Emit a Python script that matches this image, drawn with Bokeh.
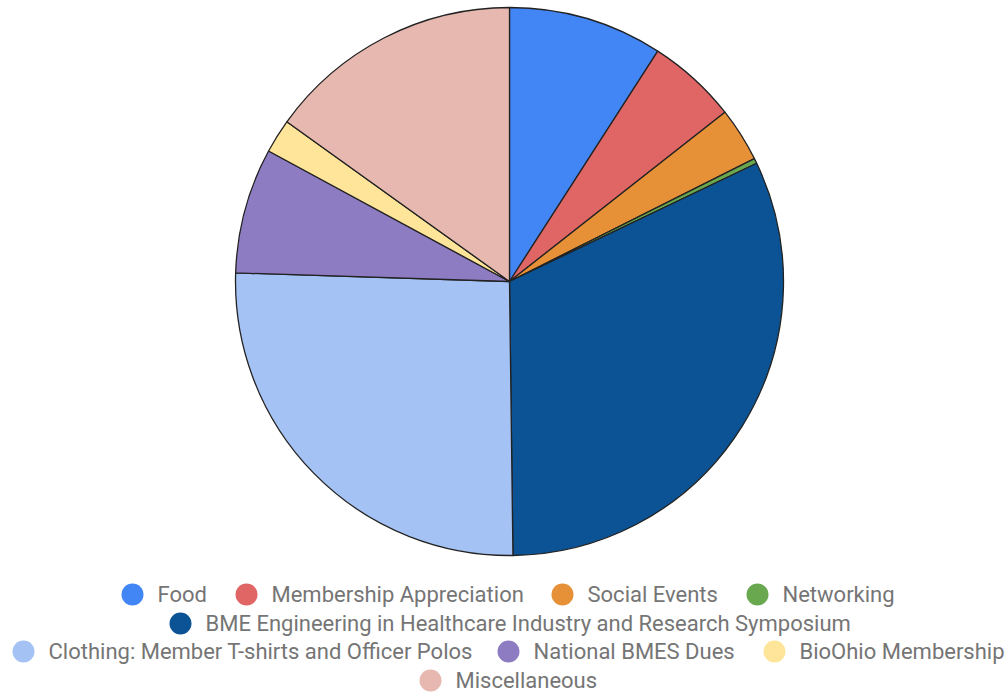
import numpy as np
from bokeh.plotting import figure
from bokeh.models import ColumnDataSource, Range1d
from bokeh.embed import file_html
from bokeh.resources import INLINE
from bokeh.core.properties import value

categories = ["Food", "Membership Appreciation", "Social Events", "Networking",
              "BME Engineering in Healthcare Industry and Research Symposium",
              "Clothing: Member T-shirts and Officer Polos", "National BMES Dues",
              "BioOhio Membership", "Miscellaneous"]
shares = [9.1, 5.3, 3.2, 0.3, 31.9, 25.7, 7.4, 2.0, 15.1]
colors = ["#4285F4", "#E06666", "#E69138", "#6AA84F", "#0B5394",
          "#A4C2F4", "#8E7CC3", "#FFE599", "#E6B8AF"]

W, H = 1008, 692
p = figure(width=W, height=H, output_backend="svg", toolbar_location=None,
           x_range=Range1d(0, W), y_range=Range1d(0, H), min_border=0)
p.axis.visible = False
p.grid.visible = False
p.outline_line_color = None

vals = np.array(shares, dtype=float)
frac = vals / vals.sum() * 2 * np.pi
ends = np.cumsum(frac)
starts = ends - frac
cx, cy, r = 509, H - 281, 274
src = ColumnDataSource(dict(start=np.pi / 2 - starts, end=np.pi / 2 - ends,
                            color=colors, label=categories))
p.wedge(x=cx, y=cy, radius=r, start_angle="start", end_angle="end",
        direction="clock", fill_color="color", line_color="#222222",
        line_width=1.3, source=src)

# legend layout (screen positions of marker centres)
legend_x = [132, 246, 562, 757, 180, 23, 508, 774, 430]
legend_y = [594, 594, 594, 594, 623, 651, 651, 651, 680]
lsrc = ColumnDataSource(dict(x=legend_x, y=[H - v for v in legend_y],
                             tx=[v + 25 for v in legend_x],
                             color=colors, label=categories))
p.scatter(x="x", y="y", size=22, marker="circle", fill_color="color",
          line_color=None, source=lsrc)
p.text(x="tx", y="y", text="label", text_font=value("Roboto"),
       text_font_size="22px", text_color="#757575", text_baseline="middle",
       text_align="left", source=lsrc)

open("out.html", "w").write(file_html(p, INLINE))
